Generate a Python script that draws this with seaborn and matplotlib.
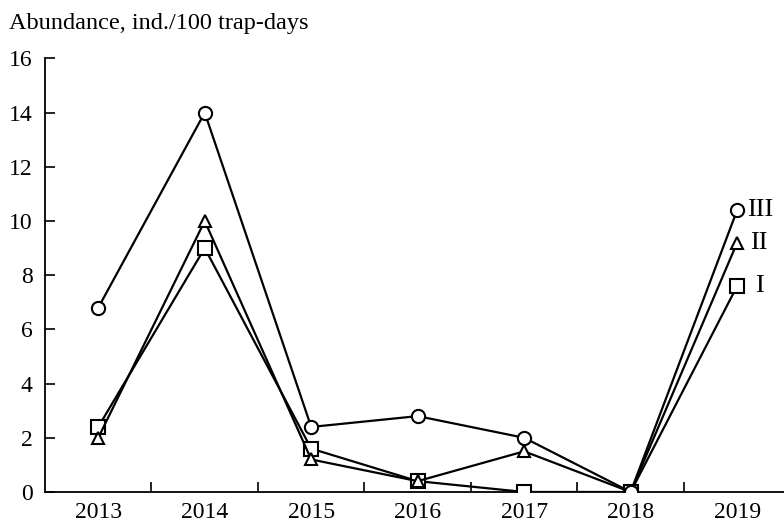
import matplotlib
matplotlib.use("Agg")
import matplotlib.pyplot as plt
import seaborn as sns
import pandas as pd

years = [2013, 2014, 2015, 2016, 2017, 2018, 2019]
series_I = [2.4, 9.0, 1.6, 0.4, 0.0, 0.0, 7.6]
series_II = [2.0, 10.0, 1.2, 0.4, 1.5, 0.0, 9.2]
series_III = [6.8, 14.0, 2.4, 2.8, 2.0, 0.0, 10.4]
series_names = ["I", "II", "III"]
y_ticks = [0, 2, 4, 6, 8, 10, 12, 14, 16]
title = "Abundance, ind./100 trap-days"

sns.set_theme(style="ticks")
plt.rcParams["font.family"] = ["Liberation Serif", "DejaVu Serif"]

fig = plt.figure(figsize=(7.84, 5.23), dpi=100)
ax = fig.add_axes([0.0574, 0.0593, 0.9426, 0.829])

markers = {"I": "s", "II": "^", "III": "o"}
label_dx = {"I": 0.17, "II": 0.12, "III": 0.09}
data = {"I": series_I, "II": series_II, "III": series_III}

for name in series_names:
    df = pd.DataFrame({"year": years, "value": data[name]})
    sns.lineplot(data=df, x="year", y="value", ax=ax, color="black",
                 linewidth=1.6, marker=markers[name],
                 markersize=9.5 if name != "II" else 8.5,
                 markerfacecolor="white", markeredgecolor="black",
                 markeredgewidth=1.5, zorder=3)
    ax.text(years[-1] + label_dx[name], data[name][-1], name,
            fontsize=19, va="center", ha="left", color="black")

ax.set_xlim(2012.5, 2019.44)
ax.set_ylim(0, 16)
ax.set_yticks(y_ticks)
ax.set_yticklabels([str(t) for t in y_ticks])
ax.set_xticks(years)
ax.set_xticklabels([str(y) for y in years])
ax.set_xticks([y + 0.5 for y in years[:-1]], minor=True)
ax.tick_params(axis="x", which="major", length=0, labelsize=17, pad=7, colors="black")
ax.tick_params(axis="x", which="minor", direction="in", length=7, width=1.2, color="black")
ax.tick_params(axis="y", direction="in", length=7, width=1.2, labelsize=17, pad=9, colors="black")
ax.set_xlabel("")
ax.set_ylabel("")
for side in ["top", "right"]:
    ax.spines[side].set_visible(False)
for side in ["left", "bottom"]:
    ax.spines[side].set_linewidth(1.3)
    ax.spines[side].set_color("black")

fig.text(0.012, 0.955, title, fontsize=17.5, ha="left", va="center", color="black")

fig.savefig("out.png", dpi=100, facecolor="white")
